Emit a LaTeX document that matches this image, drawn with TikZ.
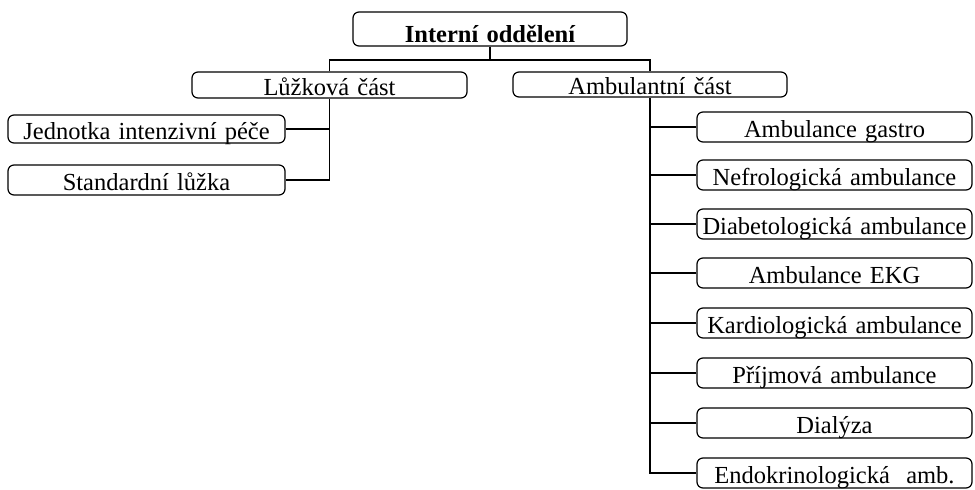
\documentclass[tikz,border=0pt]{standalone}
\usepackage{fontspec}
\setmainfont{Liberation Serif}
\begin{document}
\begin{tikzpicture}[x=1pt,y=-1pt,
  every node/.style={font=\fontsize{24.5}{26}\selectfont},
  box/.style={draw,line width=1.2pt,rounded corners=6pt,inner sep=0pt,align=center},
  rbox/.style={box,text width=275pt,text height=25pt,text depth=5pt},
  conn/.style={line width=1.2pt}]
\useasboundingbox (0,0) rectangle (975,490);
\node[box,text width=274pt,text height=30pt,text depth=4pt,font=\fontsize{24.5}{26}\selectfont\bfseries] (T) at (490,29) {Interní oddělení};
\node[box,text width=275pt,text height=23pt,text depth=3pt] (L) at (329.5,85) {Lůžková část};
\node[box,text width=274pt,text height=22pt,text depth=3pt] (A) at (650,84.5) {Ambulantní část};
\node[box,text width=277pt,text height=24pt,text depth=4pt] (J) at (146.5,129) {Jednotka intenzivní péče};
\node[box,text width=277pt,text height=25pt,text depth=5pt] (S) at (146.5,180) {Standardní lůžka};
\node[rbox] (R1) at (834.5,127) {Ambulance gastro};
\node[rbox] (R2) at (834.5,175) {Nefrologická ambulance};
\node[rbox] (R3) at (834.5,224) {Diabetologická ambulance};
\node[rbox] (R4) at (834.5,273) {Ambulance EKG};
\node[rbox] (R5) at (834.5,323) {Kardiologická ambulance};
\node[rbox] (R6) at (834.5,373) {Příjmová ambulance};
\node[rbox] (R7) at (834.5,423) {Dialýza};
\node[rbox] (R8) at (834.5,473) {Endokrinologická\ \ amb.};
\coordinate (bar) at (490,60);
\draw[conn] (T.south) -- (bar);
\draw[conn] (L.north) |- (bar) -| (A.north);
\draw[conn] (L.south) |- (S.east);
\draw[conn] (J.east) -- (J.east -| L.south);
\draw[conn] (A.south) |- (R8.west);
\foreach \r in {R1,R2,R3,R4,R5,R6,R7}{
  \draw[conn] (\r.west) -- (\r.west -| A.south);
}
\end{tikzpicture}
\end{document}
